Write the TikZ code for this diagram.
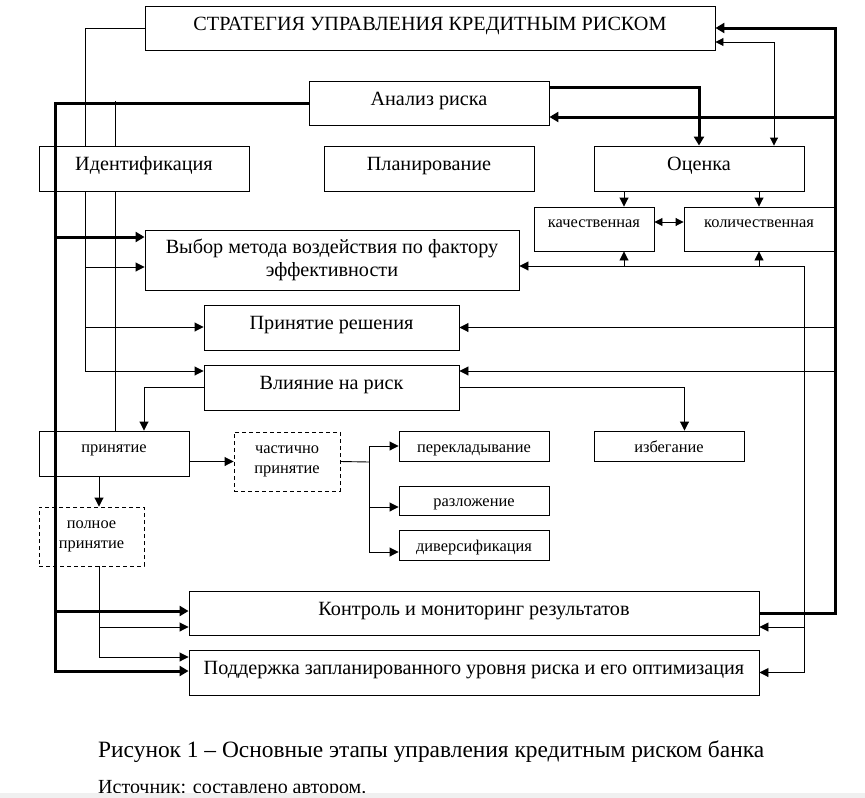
\documentclass[tikz,border=0pt]{standalone}
\usepackage{fontspec}
\setmainfont{Liberation Serif}
\usetikzlibrary{arrows.meta,backgrounds}

\tikzset{
  box/.style={rectangle, draw=black, line width=0.9pt, fill=white, inner sep=0pt,
    text height=12pt, text depth=7.4pt, font=\fontsize{20.2}{23}\selectfont},
  smallbox/.style={box, font=\fontsize{16.4}{20}\selectfont},
  smallup/.style={smallbox, text height=8pt, text depth=10.6pt},
  smalldown/.style={smallbox, text height=14pt, text depth=1.6pt},
  dashbox/.style={smallbox, dash pattern=on 4pt off 3pt, align=center, text height={}, text depth=4.5pt},
  thinline/.style={line width=0.9pt},
  thinarrow/.style={thinline, -{Triangle[length=9pt,width=9pt]}},
  thinboth/.style={thinline, {Triangle[length=8pt,width=8pt]}-{Triangle[length=8pt,width=8pt]}},
  thickline/.style={line width=3pt},
  thickarrow/.style={thickline, -{Triangle[length=9pt,width=10pt]}},
  captiontext/.style={anchor=base west, inner sep=0pt}
}

\begin{document}
\begin{tikzpicture}[x=1pt, y=-1pt]
\useasboundingbox (0,0) rectangle (865,798);

% boxes
\node[box, minimum width=570pt, minimum height=44pt] (strat) at (430,28) {СТРАТЕГИЯ УПРАВЛЕНИЯ КРЕДИТНЫМ РИСКОМ};
\node[box, minimum width=240pt, minimum height=44pt] (analiz) at (429,103) {Анализ риска};
\node[box, minimum width=210pt, minimum height=45pt] (ident) at (144,168.5) {Идентификация};
\node[box, minimum width=210pt, minimum height=45pt] (plan) at (429,168.5) {Планирование};
\node[box, minimum width=210pt, minimum height=45pt] (ocenka) at (699,168.5) {Оценка};
\node[smallup, minimum width=120pt, minimum height=44pt] (kach) at (594,229) {качественная};
\node[smallup, minimum width=150pt, minimum height=44pt] (kol) at (759,229) {количественная};
\node[box, minimum width=374pt, minimum height=60pt, align=center, text height={}, text depth={}] (vybor) at (332,260) {Выбор метода воздействия по фактору\\эффективности};
\node[box, minimum width=255pt, minimum height=45pt] (reshenie) at (331.5,327.5) {Принятие решения};
\node[box, minimum width=255pt, minimum height=45pt] (vliyanie) at (331.5,387.5) {Влияние на риск};
\node[smallup, text depth=11pt, minimum width=150pt, minimum height=45pt] (prinyatie) at (114,453.5) {принятие};
\node[dashbox, minimum width=106pt, minimum height=59pt] (chastichno) at (287,461.5) {частично\\принятие};
\node[smalldown, minimum width=150pt, minimum height=30pt] (pereklad) at (474,446) {перекладывание};
\node[smalldown, minimum width=150pt, minimum height=30pt] (izbeg) at (669,446) {избегание};
\node[smalldown, minimum width=150pt, minimum height=29pt] (razlozh) at (474,500.5) {разложение};
\node[smalldown, minimum width=150pt, minimum height=30pt] (divers) at (474,545) {диверсификация};
\node[dashbox, minimum width=105pt, minimum height=59pt] (polnoe) at (91.5,536.5) {полное\\принятие};
\node[box, minimum width=570pt, minimum height=44pt] (kontrol) at (474,613) {Контроль и мониторинг результатов};
\node[box, minimum width=570pt, minimum height=45pt] (podderzh) at (474,672.5) {Поддержка запланированного уровня риска и его оптимизация};

% caption
\node[captiontext, font=\fontsize{23.4}{27}\selectfont] (caption) at (98,757) {Рисунок 1 – Основные этапы управления кредитным риском банка};
\node[captiontext, font=\fontsize{20}{23}\selectfont] (source) at (98,793) {Источник: составлено автором.};

% bus points
\coordinate (busA) at (85,371);
\coordinate (aVybor) at (85,267);
\coordinate (aResh) at (85,327);
\coordinate (busB) at (115,101);
\coordinate (busC) at (55,671);
\coordinate (cVybor) at (55,237);
\coordinate (cKontrol) at (55,611);
\coordinate (busD) at (99,657);
\coordinate (dKontrol) at (99,627);
\coordinate (busE) at (804,266);
\coordinate (eKontrol) at (804,627);
\coordinate (busR) at (835,611);
\coordinate (fork) at (369,462);
\coordinate (kachUp) at ([xshift=30pt]kach.south);
\coordinate (analizIn) at ([yshift=-14pt]analiz.east);
\coordinate (vliyanieIn) at ([yshift=16.5pt]vliyanie.east);

% thin connectors behind the boxes
\begin{scope}[on background layer]
\draw[thinarrow] (strat.west) -| (busA) -- (busA -| vliyanie.west);
\draw[thinarrow] (aVybor) -- (aVybor -| vybor.west);
\draw[thinarrow] (aResh) -- (aResh -| reshenie.west);
\draw[thinline] (busB) -- (busB |- prinyatie.north);
\draw[thinarrow] (busD |- polnoe.south) -- (busD) -- (busD -| podderzh.west);
\draw[thinarrow] (dKontrol) -- (dKontrol -| kontrol.west);
\draw[thinarrow] (busD |- prinyatie.south) -- (busD |- polnoe.north);
\draw[thinarrow] (vliyanie.west) -| ([xshift=30pt]prinyatie.north);
\draw[thinarrow] (vliyanie.east) -| ([xshift=15.5pt]izbeg.north);
\draw[thinarrow] (prinyatie.east |- chastichno.west) -- (chastichno.west);
\draw[thinline] (chastichno.east) -- (fork);
\draw[thinarrow] (fork) |- (pereklad.west);
\draw[thinarrow] (fork) |- ([yshift=-6.5pt]razlozh.west);
\draw[thinarrow] (fork) |- ([yshift=-7pt]divers.west);
\draw[thinboth] ([yshift=-14pt]strat.east) -| ([xshift=75pt]ocenka.north);
\draw[thinarrow] ([xshift=-75pt]ocenka.south) -- ([xshift=30pt]kach.north);
\draw[thinarrow] ([xshift=60pt]ocenka.south) -- (kol.north);
\draw[thinboth] ([yshift=7pt]kach.east) -- ([yshift=7pt]kol.west);
\draw[thinarrow] (busE) -- (busE -| vybor.east);
\draw[thinarrow] (busE) |- (podderzh.east);
\draw[thinarrow] (eKontrol) -- (eKontrol -| kontrol.east);
\draw[thinarrow] (busE -| kol.south) -- (kol.south);
\draw[thinarrow] (busE -| kachUp) -- (kachUp);
\draw[thinarrow] (busR |- reshenie.east) -- (reshenie.east);
\draw[thinarrow] (busR |- vliyanieIn) -- (vliyanieIn);
\end{scope}

% thick connectors
\draw[thickarrow] (analiz.west) -| (busC) -- (busC -| podderzh.west);
\draw[thickarrow] (cVybor) -- (cVybor -| vybor.west);
\draw[thickarrow] (cKontrol) -- (cKontrol -| kontrol.west);
\draw[thickarrow] ([yshift=16pt]analiz.east) -| (ocenka.north);
\draw[thickarrow] (kontrol.east) -| (busR |- strat.east) -- (strat.east);
\draw[thickarrow] (busR |- analizIn) -- (analizIn);

\fill[gray!12] (0,793) rectangle (865,798);
\end{tikzpicture}
\end{document}
